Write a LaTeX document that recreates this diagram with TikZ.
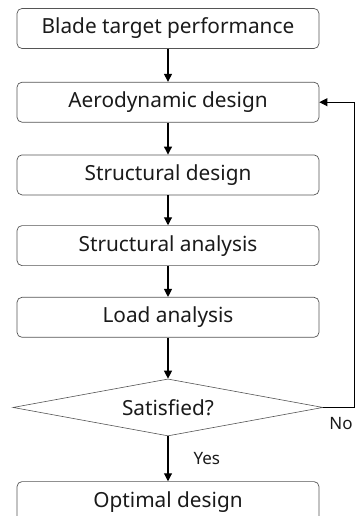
\documentclass[tikz,border=0pt]{standalone}
\usepackage{fontspec}
\setmainfont{Noto Sans}
\usepackage{tikz}
\usetikzlibrary{positioning, arrows.meta, calc, shapes.geometric}
\definecolor{edge}{HTML}{555555}
\definecolor{ink}{HTML}{1a1a1a}

\begin{document}
\begin{tikzpicture}[x=1pt, y=1pt, stepbox/.style={draw=edge, line width=0.7pt, rounded corners=5pt, minimum width=302pt, minimum height=40pt, inner sep=0pt, font=\fontsize{20.8}{23}\selectfont, text=ink}, decision/.style={diamond, aspect=5.4, draw=edge, line width=0.6pt, minimum width=310pt, minimum height=57pt, inner sep=0pt, font=\fontsize{20.8}{23}\selectfont, text=ink}, flow/.style={-{Triangle[length=8pt, width=8pt]}, line width=1.1pt}, lbl/.style={font=\fontsize{17}{19}\selectfont, text=ink, inner sep=1pt}]
\useasboundingbox (0,0) rectangle (356,-516);
\node[stepbox] (target) at (168,-28.5) {Blade target performance};
\node[stepbox, below=33pt of target] (aero) {Aerodynamic design};
\node[stepbox, below=32pt of aero] (sdesign) {Structural design};
\node[stepbox, below=30pt of sdesign] (sanal) {Structural analysis};
\node[stepbox, below=31pt of sanal] (load) {Load analysis};
\node[decision, below=41pt of load] (check) {Satisfied?};
\node[stepbox, below=45pt of check] (optimal) {Optimal design};
\coordinate (back) at (354,0);
\draw[flow] (target) -- (aero);
\draw[flow] (aero) -- (sdesign);
\draw[flow] (sdesign) -- (sanal);
\draw[flow] (sanal) -- (load);
\draw[flow] (load) -- (check);
\draw[flow] (check) -- node[lbl, right=24pt] {Yes} (optimal);
\draw[flow, line width=0.9pt] (check.east) -- node[lbl, pos=1, anchor=north east, yshift=-8pt] {No} (check.east -| back) |- (aero.east);
\end{tikzpicture}
\end{document}
